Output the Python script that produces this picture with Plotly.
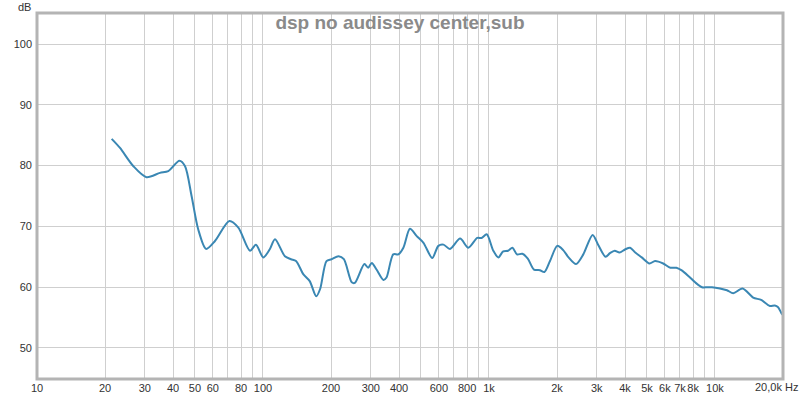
import numpy as np
import plotly.graph_objects as go

freq_hz = [21.4, 23.3, 26.7, 30.5, 35.0, 38.1, 42.7, 45.2, 48.3, 51.7, 56.0, 61.3, 71.0, 77.8,
           87.6, 93.1, 100.3, 107, 113, 125, 133, 140, 151, 161, 172, 179, 191, 201, 216, 228,
           247, 255, 281, 292, 303, 318, 341, 352, 377, 397, 418, 447, 479, 513, 561, 597,
           629, 672, 745, 810, 887, 928, 977, 1045, 1100, 1156, 1215, 1270, 1330, 1405, 1485,
           1581, 1680, 1760, 1862, 2005, 2130, 2250, 2427, 2614, 2875, 3040, 3280, 3430, 3600,
           3780, 3998, 4210, 4440, 4743, 5130, 5430, 5900, 6350, 6750, 7100, 7600, 8170, 8760,
           9230, 9700, 10520, 11300, 12050, 13240, 14760, 16000, 17500, 18400, 19030, 19700, 20000]
spl_db = [84.4, 82.9, 79.9, 78.1, 78.8, 79.1, 80.8, 79.9, 75.0, 69.5, 66.3, 67.6, 70.9, 69.8,
          66.0, 67.0, 64.9, 66.2, 67.9, 65.1, 64.6, 64.3, 62.1, 61.0, 58.5, 59.7, 64.3, 64.6, 65.1, 64.6,
          60.8, 60.7, 63.8, 63.2, 64.0, 62.9, 61.2, 61.6, 65.4, 65.4, 66.5, 69.6, 68.4, 67.3, 64.8, 66.8,
          67.0, 66.3, 68.0, 66.5, 68.1, 68.1, 68.7, 66.0, 64.9, 65.9, 66.0, 66.5, 65.4, 65.5, 64.7,
          62.9, 62.8, 62.5, 64.3, 66.8, 66.1, 64.9, 63.8, 65.4, 68.6, 67.0, 65.0, 65.6, 66.0,
          65.7, 66.2, 66.5, 65.7, 64.9, 63.9, 64.3, 63.9, 63.2, 63.2, 62.8, 61.9, 60.8, 60.0,
          60.0, 60.0, 59.8, 59.5, 59.0, 59.8, 58.3, 57.9, 56.9, 57.0, 56.7, 55.7, 55.4]

x_grid = [m * d for d in (10, 100, 1000, 10000) for m in range(1, 10)] + [20000]
label_map = {10: "10", 20: "20", 30: "30", 40: "40", 50: "50", 60: "60", 80: "80", 100: "100",
             200: "200", 300: "300", 400: "400", 600: "600", 800: "800", 1000: "1k",
             2000: "2k", 3000: "3k", 4000: "4k", 5000: "5k", 6000: "6k", 7000: "7k", 8000: "8k",
             10000: "10k"}
x_text = [label_map.get(v, "") for v in x_grid]
y_ticks = [50, 60, 70, 80, 90, 100]

fig = go.Figure()
fig.add_trace(go.Scatter(x=freq_hz, y=spl_db, mode="lines",
                         line=dict(color="#3a87b3", width=2, shape="spline", smoothing=0.8),
                         hoverinfo="skip", showlegend=False))

fig.update_layout(
    width=800, height=398,
    margin=dict(l=37, r=17, t=13, b=19, autoexpand=False),
    paper_bgcolor="white", plot_bgcolor="white",
    font=dict(family="Liberation Sans, Arial, sans-serif", size=11, color="#333333"),
    title=dict(text="<b>dsp no audissey center,sub</b>", x=0.5, xanchor="center",
               y=1 - 22 / 398, yanchor="middle",
               font=dict(family="Liberation Sans, Arial, sans-serif", size=19, color="#8a8a8a")),
)
fig.update_xaxes(type="log", range=[1, np.log10(20000)], tickmode="array",
                 tickvals=x_grid, ticktext=x_text, tickangle=0, automargin=False,
                 showgrid=True, gridcolor="#cfcfcf",
                 gridwidth=1, zeroline=False, showline=False, ticks="", ticklabelstandoff=1)
fig.update_yaxes(range=[44.9, 105.1], tickmode="array", tickvals=y_ticks, automargin=False,
                 showgrid=True, gridcolor="#cfcfcf", gridwidth=1, zeroline=False,
                 showline=False, ticks="", ticklabelstandoff=4)
fig.add_shape(type="rect", xref="paper", yref="paper", x0=0, x1=1, y0=0, y1=1,
              line=dict(color="#b4b4b4", width=3), layer="above")
fig.add_annotation(text="dB", xref="paper", yref="paper", x=-0.005, y=1.0,
                   xanchor="right", yanchor="bottom", showarrow=False,
                   font=dict(size=11, color="#333333"), yshift=-2)
fig.add_annotation(text="20,0k Hz", xref="paper", yref="paper", x=1.0, y=0,
                   xanchor="right", yanchor="top", showarrow=False,
                   font=dict(size=11, color="#333333"), xshift=17, yshift=0)
fig.write_html("out.html")
